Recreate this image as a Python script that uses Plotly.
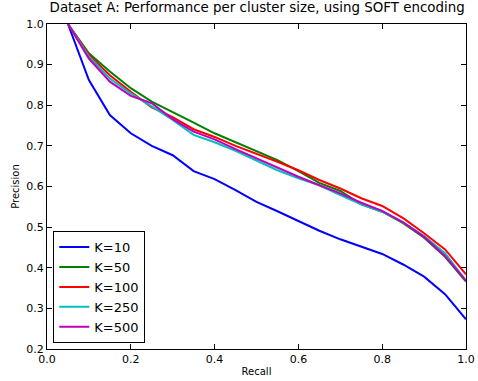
import plotly.graph_objects as go

recall = [0.05, 0.10, 0.15, 0.20, 0.25, 0.30, 0.35, 0.40, 0.45, 0.50,
          0.55, 0.60, 0.65, 0.70, 0.75, 0.80, 0.85, 0.90, 0.95, 1.00]

k10 = [1.0, 0.862, 0.776, 0.731, 0.700, 0.677, 0.638, 0.618, 0.591, 0.562,
       0.539, 0.515, 0.491, 0.470, 0.452, 0.434, 0.408, 0.378, 0.335, 0.273]
k50 = [1.0, 0.928, 0.883, 0.842, 0.809, 0.784, 0.757, 0.731, 0.709, 0.686,
       0.665, 0.638, 0.609, 0.589, 0.556, 0.538, 0.510, 0.474, 0.427, 0.366]
k100 = [1.0, 0.924, 0.874, 0.833, 0.795, 0.771, 0.741, 0.722, 0.700, 0.681,
        0.661, 0.640, 0.616, 0.595, 0.571, 0.552, 0.522, 0.485, 0.445, 0.384]
k250 = [1.0, 0.920, 0.866, 0.829, 0.797, 0.764, 0.727, 0.709, 0.688, 0.663,
        0.640, 0.620, 0.603, 0.579, 0.556, 0.538, 0.512, 0.478, 0.436, 0.368]
k500 = [1.0, 0.915, 0.858, 0.823, 0.805, 0.766, 0.735, 0.716, 0.692, 0.669,
        0.645, 0.624, 0.603, 0.583, 0.560, 0.540, 0.512, 0.476, 0.429, 0.368]

names = ["K=10", "K=50", "K=100", "K=250", "K=500"]
series = [k10, k50, k100, k250, k500]
colors = ["#0000ff", "#008000", "#ff0000", "#00bfbf", "#bf00bf"]

fig = go.Figure()
for n, s, c in zip(names, series, colors):
    fig.add_trace(go.Scatter(x=recall, y=s, mode="lines", name=n,
                             line=dict(color=c, width=2)))

axis_common = dict(showline=True, linecolor="black", linewidth=1, mirror="ticks",
                   ticks="inside", ticklen=5, tickcolor="black", showgrid=False,
                   zeroline=False, automargin=False,
                   tickfont=dict(size=11, color="black"))

fig.update_layout(
    width=478, height=381,
    margin=dict(l=47, r=12, t=24, b=32, autoexpand=False),
    paper_bgcolor="white", plot_bgcolor="white",
    font=dict(family="DejaVu Sans", color="black"),
    title=dict(text="Dataset A: Performance per cluster size, using SOFT encoding",
               x=0.538, xanchor="center", y=0.992, yanchor="top", automargin=False,
               font=dict(size=13.4, color="black")),
    xaxis=dict(range=[0, 1], dtick=0.2, tickformat=".1f",
               title=dict(text="Recall", font=dict(size=10), standoff=2), **axis_common),
    yaxis=dict(range=[0.2, 1.0], dtick=0.1, tickformat=".1f",
               title=dict(text="Precision", font=dict(size=10), standoff=4), **axis_common),
    legend=dict(x=0.015, y=0.018, xanchor="left", yanchor="bottom",
                bordercolor="black", borderwidth=1, bgcolor="white",
                font=dict(size=13), tracegroupgap=0, itemwidth=30),
    showlegend=True,
)

fig.write_html("out.html", config={"displayModeBar": False},
               post_script="document.body.style.margin='0';document.body.style.overflow='hidden';")
